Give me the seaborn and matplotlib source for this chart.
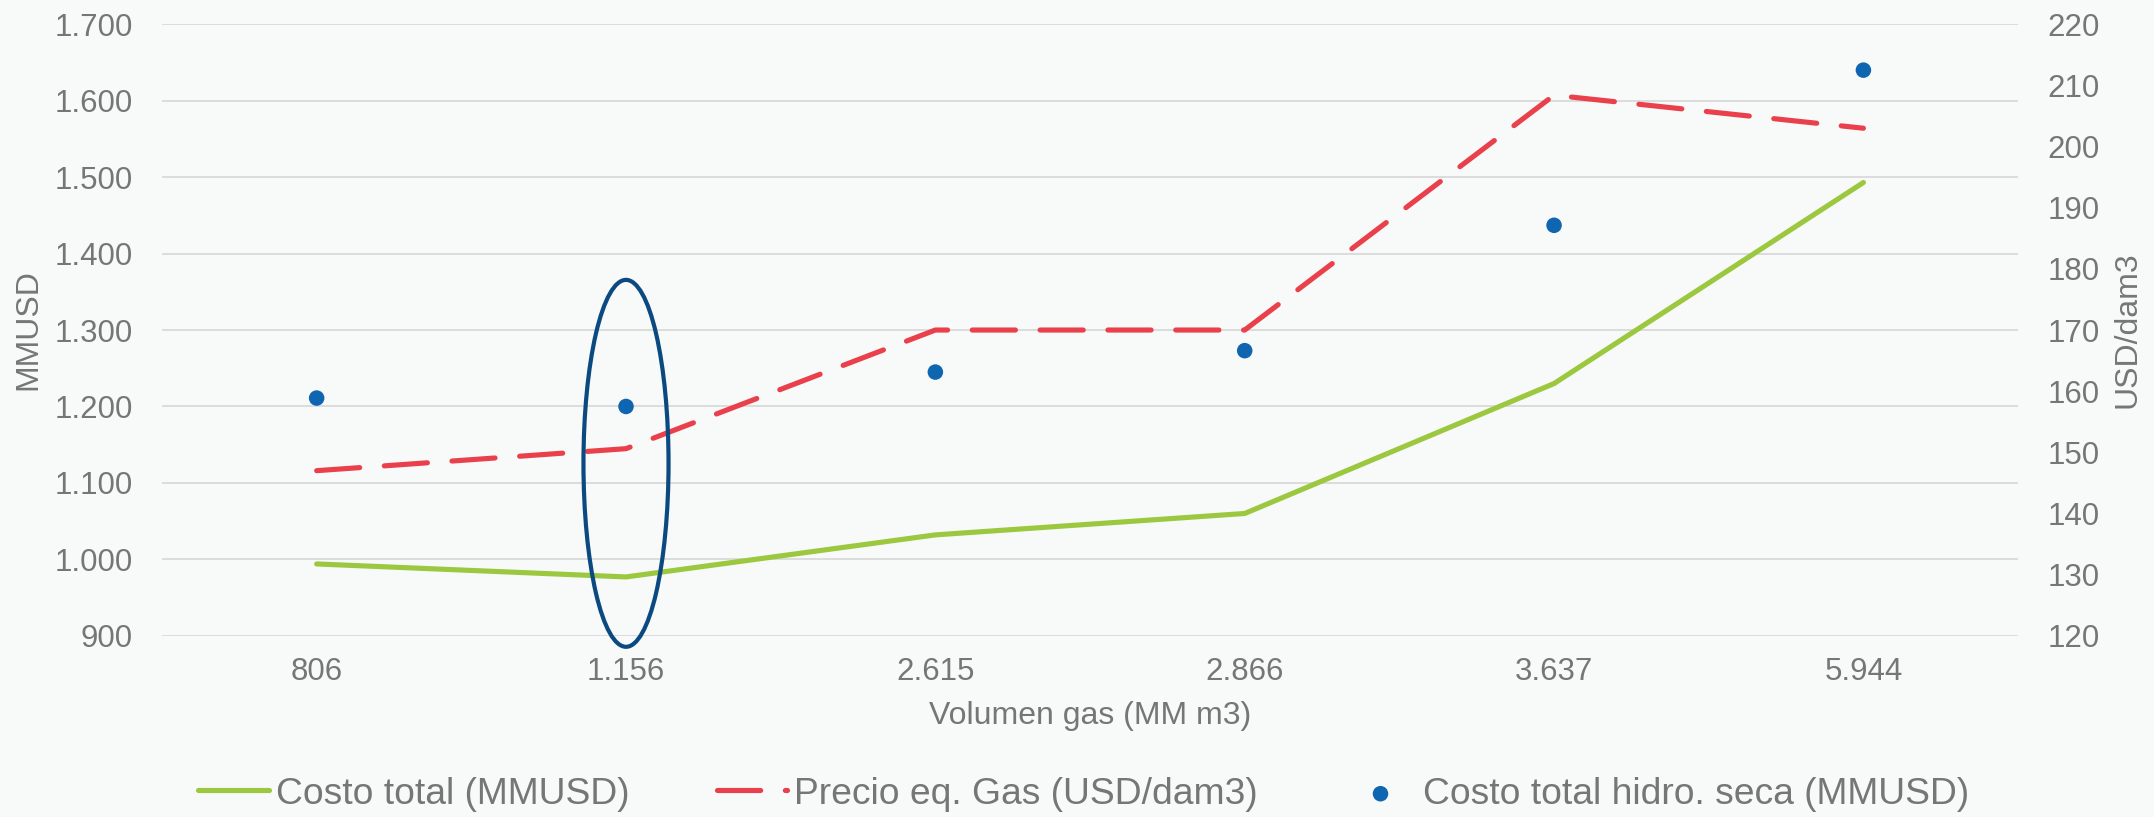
import matplotlib
matplotlib.use("Agg")
import matplotlib.pyplot as plt
from matplotlib.patches import Ellipse
from matplotlib.ticker import FuncFormatter, MultipleLocator
import pandas as pd
import seaborn as sns

# datos
volumen_gas = ['806', '1.156', '2.615', '2.866', '3.637', '5.944']
costo_total = [994, 977, 1032, 1060, 1230, 1493]          # MMUSD (eje izq.)
precio_gas = [147, 150.6, 170, 170, 208.4, 203]            # USD/dam3 (eje der.)
costo_hidro_seca = [1211, 1200, 1245, 1273, 1437, 1640]    # MMUSD (eje izq.)

sns.set_style('white')
plt.rcParams['font.family'] = ['Liberation Sans', 'DejaVu Sans']

GRIS = '#767676'
VERDE = '#9BC83F'
ROJO = '#E9404B'
AZUL = '#0F66B0'
ELIPSE = '#0B4A80'
FONDO = '#F8F9F9'

df = pd.DataFrame({
    'pos': range(len(volumen_gas)),
    'costo': costo_total,
    'precio': precio_gas,
    'hidro': costo_hidro_seca,
})

fig = plt.figure(figsize=(21.54, 8.17), dpi=100, facecolor=FONDO)
ax = fig.add_axes([0.0752, 0.2218, 0.8617, 0.7485])
ax.set_facecolor(FONDO)
ax2 = ax.twinx()

# series
sns.lineplot(data=df, x='pos', y='costo', ax=ax, color=VERDE, linewidth=3.7,
             label='Costo total (MMUSD)', legend=False, zorder=3)
ax.lines[-1].set_solid_capstyle('round')

sns.scatterplot(data=df, x='pos', y='hidro', ax=ax, color=AZUL, s=125,
                edgecolor='none', label='Costo total hidro. seca (MMUSD)',
                legend=False, zorder=4)

sns.lineplot(data=df, x='pos', y='precio', ax=ax2, color=ROJO, linewidth=3.7,
             label='Precio eq. Gas (USD/dam3)', legend=False, zorder=3)
linea_precio = ax2.lines[-1]
linea_precio.set_dashes([8.4, 4.8])
linea_precio.set_dash_capstyle('round')

# elipse que destaca 1.156
ax2.add_patch(Ellipse((1, 148.2), width=0.275, height=60, fill=False,
                      edgecolor=ELIPSE, linewidth=3.0, clip_on=False, zorder=5))

# ejes
ax.set_xlim(-0.5, len(volumen_gas) - 0.5)
ax.set_ylim(900, 1700)
ax2.set_ylim(120, 220)
ax.set_xticks(range(len(volumen_gas)))
ax.set_xticklabels(volumen_gas)
ax.yaxis.set_major_locator(MultipleLocator(100))
ax2.yaxis.set_major_locator(MultipleLocator(10))
ax.yaxis.set_major_formatter(FuncFormatter(lambda v, p: f'{v:,.0f}'.replace(',', '.')))

ax.grid(axis='y', color='#DCDCDC', linewidth=1.4)
ax.grid(axis='x', visible=False)
ax2.grid(False)
for a in (ax, ax2):
    for s in a.spines.values():
        s.set_visible(False)

ax.tick_params(axis='x', length=0, pad=15, labelsize=22.5, labelcolor=GRIS)
ax.tick_params(axis='y', length=0, pad=21, labelsize=22.5, labelcolor=GRIS)
ax2.tick_params(axis='y', length=0, pad=21, labelsize=22.5, labelcolor=GRIS)

ax.set_xlabel('Volumen gas (MM m3)', fontsize=23, color=GRIS)
ax.xaxis.set_label_coords(0.5, -0.131)
ax.xaxis.label.set_verticalalignment('center')
ax.set_ylabel('MMUSD', fontsize=23, color=GRIS)
ax.yaxis.set_label_coords(-0.0722, 0.5)
ax.yaxis.label.set_verticalalignment('center')
ax2.set_ylabel('USD/dam3', fontsize=23, color=GRIS)
ax2.yaxis.set_label_coords(1.0587, 0.5)
ax2.yaxis.label.set_verticalalignment('center')

# leyenda
h1, l1 = ax.get_legend_handles_labels()
h2, l2 = ax2.get_legend_handles_labels()
handles = [h1[0], h2[0], h1[1]]
labels = [l1[0], l2[0], l1[1]]
leg = fig.legend(handles, labels, loc='center', bbox_to_anchor=(0.503, 1 - 794 / 817),
                 ncol=3, frameon=False, fontsize=26.8, handlelength=1.9,
                 handletextpad=0.18, columnspacing=2.35, borderaxespad=0)
for t in leg.get_texts():
    t.set_color(GRIS)

fig.savefig('out.png', dpi=100, facecolor=FONDO)
